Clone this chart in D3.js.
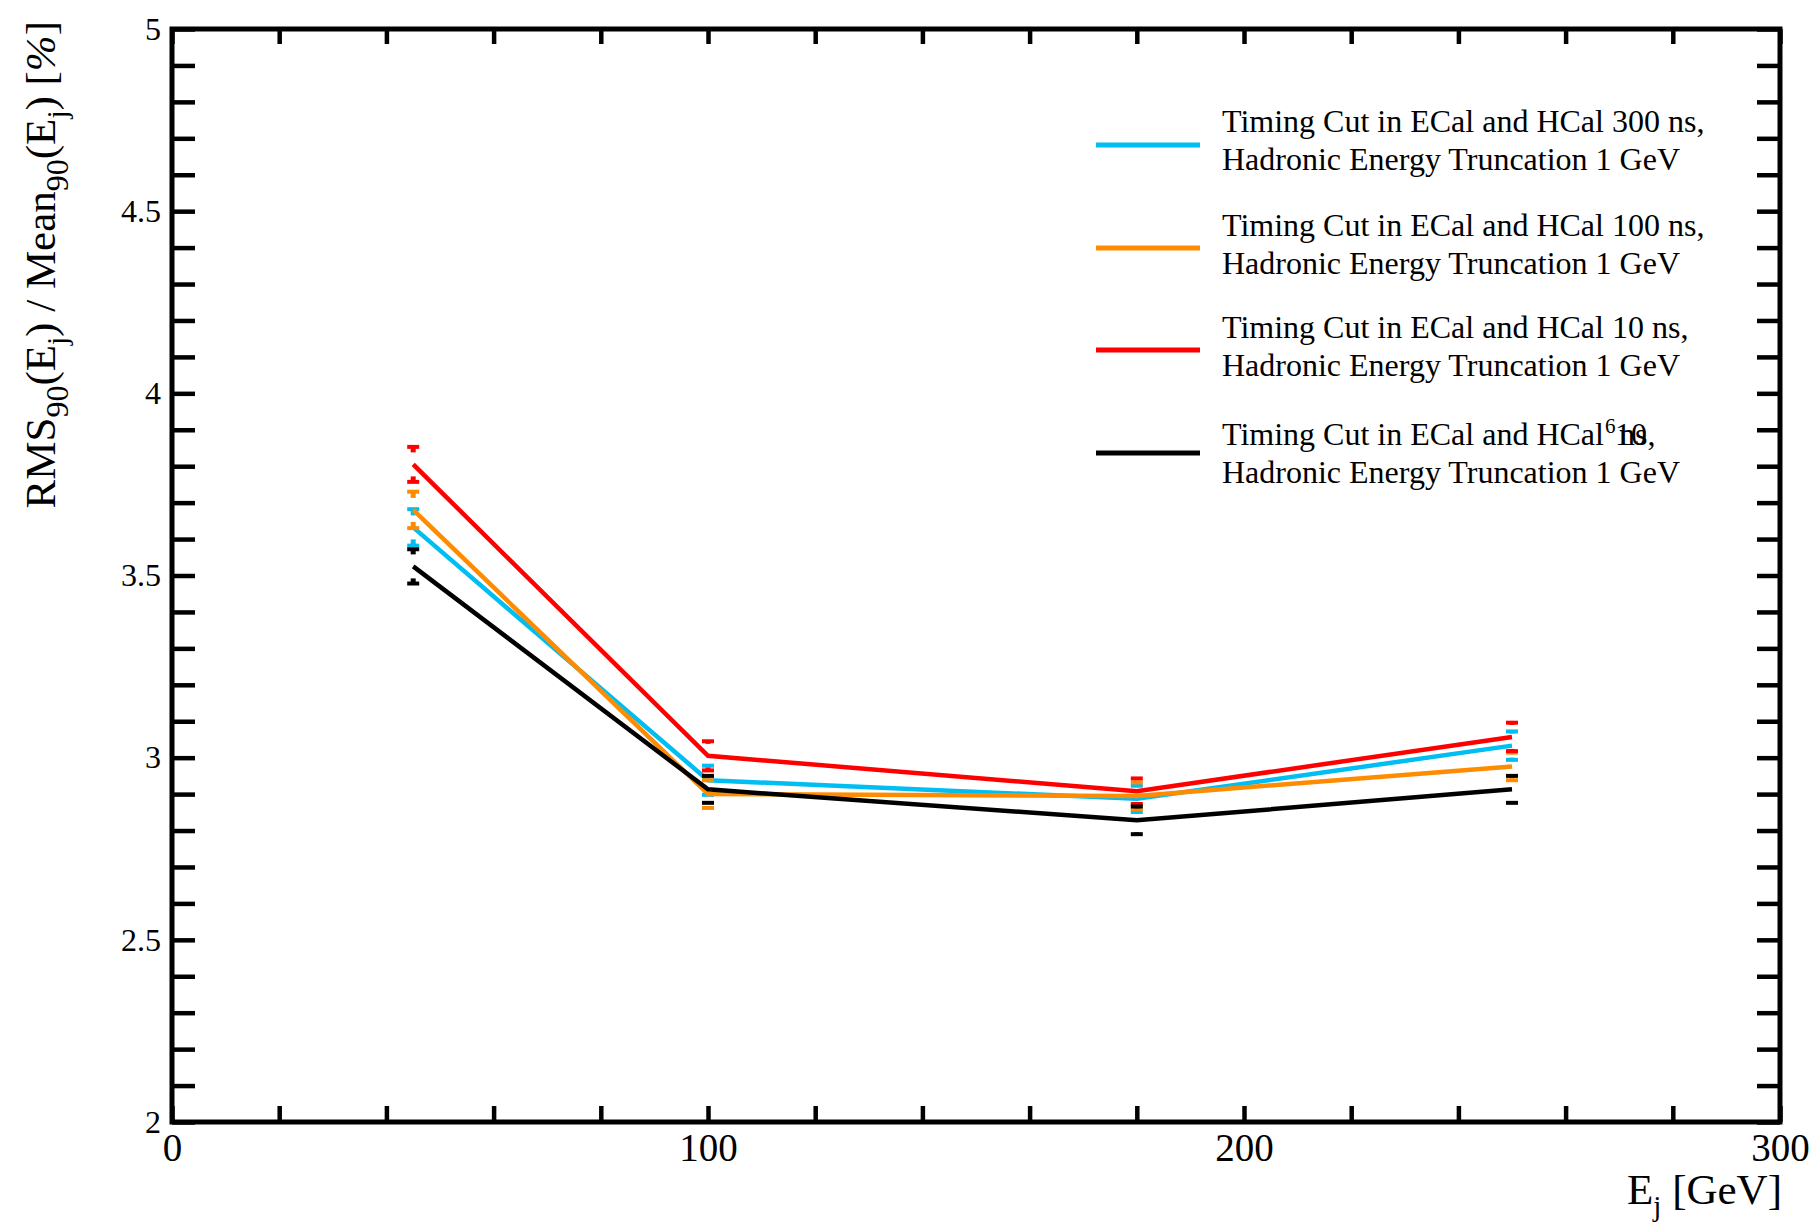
<!DOCTYPE html>
<html><head><meta charset="utf-8">
<script src="https://cdn.jsdelivr.net/npm/d3@7"></script>
<style>
html,body{margin:0;padding:0;background:#fff;}
svg{display:block;font-family:"Liberation Serif","Times New Roman",serif;}
</style></head><body>
<svg id="chart" width="1813" height="1222"></svg>
<script>
// Jet energy points [GeV]
const energies = [45, 100, 180, 250];

// RMS90/Mean90 [%] and statistical errors for each timing cut
const res300ns = [3.632, 2.938, 2.887, 3.033];
const err300ns = [0.050, 0.040, 0.036, 0.039];
const res100ns = [3.680, 2.900, 2.895, 2.976];
const err100ns = [0.050, 0.038, 0.037, 0.038];
const res10ns  = [3.805, 3.005, 2.908, 3.057];
const err10ns  = [0.048, 0.040, 0.035, 0.039];
const res1e6ns = [3.525, 2.913, 2.828, 2.913];
const err1e6ns = [0.047, 0.037, 0.038, 0.037];

const seriesColors = ["#00bdf2", "#ff8c00", "#ff0000", "#000000"];
const timingCuts = ["300 ns,", "100 ns,", "10 ns,", "10^6 ns,"];

const xTickLabels = [0, 100, 200, 300];
const yTickLabels = [2, 2.5, 3, 3.5, 4, 4.5, 5];

const series = [
  {vals: res300ns, errs: err300ns},
  {vals: res100ns, errs: err100ns},
  {vals: res10ns,  errs: err10ns},
  {vals: res1e6ns, errs: err1e6ns}
].map((s, i) => ({
  color: seriesColors[i],
  cut: timingCuts[i],
  pts: energies.map((e, j) => ({e, v: s.vals[j], err: s.errs[j]}))
}));

const svg = d3.select("#chart");
const L = 172, R = 1780, T = 29, B = 1122;
const x = d3.scaleLinear().domain([0, 300]).range([L, R]);
const y = d3.scaleLinear().domain([2, 5]).range([B, T]);

// ---- axes (ticks on all four sides, pointing inward) ----
const xMinor = d3.range(0, 301, 20);
const yMinor = d3.range(20, 51).map(d => d / 10);

function styleAxis(fontSize) {
  return g => {
    g.select(".domain").remove();
    g.selectAll(".tick line").attr("stroke", "#000").attr("stroke-width", 4.5);
    g.selectAll(".tick text").attr("fill", "#000")
      .style("font-family", '"Liberation Serif", serif').style("font-size", fontSize + "px");
  };
}

svg.append("g").attr("transform", `translate(0,${B})`)
  .call(d3.axisBottom(x).tickValues(xMinor).tickSizeInner(-16).tickSizeOuter(0).tickPadding(11)
    .tickFormat(d => xTickLabels.includes(d) ? d3.format("d")(d) : ""))
  .call(styleAxis(39));

svg.append("g").attr("transform", `translate(0,${T})`)
  .call(d3.axisTop(x).tickValues(xMinor).tickSizeInner(-15).tickSizeOuter(0).tickFormat(""))
  .call(styleAxis(39));

svg.append("g").attr("transform", `translate(${L},0)`)
  .call(d3.axisLeft(y).tickValues(yMinor).tickSizeInner(-23).tickSizeOuter(0).tickPadding(11)
    .tickFormat(d => yTickLabels.some(v => Math.abs(v - d) < 1e-6) ? d3.format("")(+d.toFixed(1)) : ""))
  .call(styleAxis(32));

svg.append("g").attr("transform", `translate(${R},0)`)
  .call(d3.axisRight(y).tickValues(yMinor).tickSizeInner(-23).tickSizeOuter(0).tickFormat(""))
  .call(styleAxis(32));

// frame
svg.append("rect").attr("x", L).attr("y", T).attr("width", R - L).attr("height", B - T)
  .attr("fill", "none").attr("stroke", "#000").attr("stroke-width", 5);

// ---- data: connecting lines and error-bar caps ----
const line = d3.line().x(d => x(d.e)).y(d => y(d.v));
const markerHalf = 12, capHalf = 6;

series.forEach(s => {
  const g = svg.append("g");
  g.append("path").datum(s.pts).attr("d", line)
    .attr("fill", "none").attr("stroke", s.color).attr("stroke-width", 4.5);
  s.pts.forEach(p => {
    const cx = x(p.e), yc = y(p.v);
    [y(p.v + p.err), y(p.v - p.err)].forEach(ye => {
      const dir = ye < yc ? 1 : -1;
      const stub = Math.max(0, Math.abs(ye - yc) - markerHalf);
      if (stub > 0) {
        g.append("line").attr("x1", cx).attr("x2", cx).attr("y1", ye).attr("y2", ye + dir * stub)
          .attr("stroke", s.color).attr("stroke-width", 5);
      }
      g.append("line").attr("x1", cx - capHalf).attr("x2", cx + capHalf).attr("y1", ye).attr("y2", ye)
        .attr("stroke", s.color).attr("stroke-width", 4);
    });
  });
});

// ---- legend ----
const legY = [145, 248, 350, 453];
const legTextShift = [0, 1, 1, 5];
const legFont = 32;
series.forEach((s, i) => {
  const g = svg.append("g");
  g.append("line").attr("x1", 1096).attr("x2", 1200).attr("y1", legY[i]).attr("y2", legY[i])
    .attr("stroke", s.color).attr("stroke-width", 5);
  const b1 = legY[i] - 13 + legTextShift[i], b2 = legY[i] + 25 + legTextShift[i];
  const t1 = g.append("text").attr("x", 1222).attr("y", b1).style("font-size", legFont + "px");
  if (i < 3) {
    t1.text("Timing Cut in ECal and HCal " + s.cut);
  } else {
    t1.text("Timing Cut in ECal and HCal");
    const w = t1.node().getComputedTextLength();
    g.append("text").attr("x", 1222 + w + 1).attr("y", b1 - 12).style("font-size", "21px").text("6");
    g.append("text").attr("x", 1222 + w + 11).attr("y", b1).style("font-size", legFont + "px").text("10");
    g.append("text").attr("x", 1222 + w + 15).attr("y", b1).style("font-size", legFont + "px").text("ns,");
  }
  g.append("text").attr("x", 1222).attr("y", b2).style("font-size", legFont + "px")
    .text("Hadronic Energy Truncation 1 GeV");
});

// ---- axis titles ----
const xt = svg.append("text").attr("x", R + 2).attr("y", 1204).attr("text-anchor", "end")
  .style("font-size", "43px");
xt.append("tspan").text("E");
xt.append("tspan").attr("dy", 12).style("font-size", "29px").text("j");
xt.append("tspan").attr("dy", -12).text(" [GeV]");

const yt = svg.append("text").attr("transform", "translate(55,21) rotate(-90)")
  .attr("text-anchor", "end").style("font-size", "43px");
yt.append("tspan").text("RMS");
yt.append("tspan").attr("dy", 13).style("font-size", "32px").text("90");
yt.append("tspan").attr("dy", -13).text("(E");
yt.append("tspan").attr("dy", 12).style("font-size", "29px").text("j");
yt.append("tspan").attr("dy", -12).text(") / Mean");
yt.append("tspan").attr("dy", 13).style("font-size", "32px").text("90");
yt.append("tspan").attr("dy", -13).text("(E");
yt.append("tspan").attr("dy", 12).style("font-size", "29px").text("j");
yt.append("tspan").attr("dy", -12).text(") [");
yt.append("tspan").style("font-style", "italic").text("%");
yt.append("tspan").text("]");
</script>
</body></html>
